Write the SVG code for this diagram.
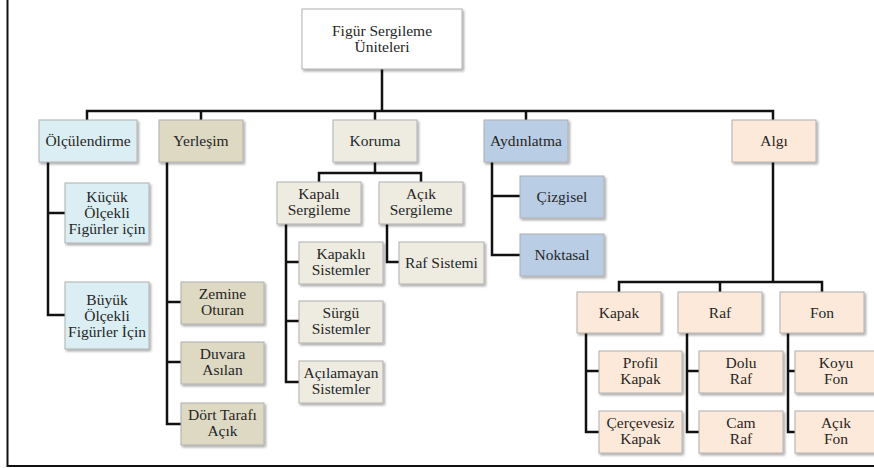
<svg xmlns="http://www.w3.org/2000/svg" width="874" height="468" viewBox="0 0 874 468">
<defs>
<filter id="sh" x="-10%" y="-10%" width="125%" height="130%">
<feDropShadow dx="1.5" dy="1.8" stdDeviation="1" flood-color="#000" flood-opacity="0.35"/>
</filter>
</defs>
<style>
.b{stroke:#B0B0B0;stroke-width:1;filter:url(#sh)}
.w{fill:#FFFFFF}
.lb{fill:#DBEEF3}
.tn{fill:#DDD9C3}
.bg{fill:#EEECE1}
.bl{fill:#B9CDE5}
.pc{fill:#FDE9D9}
.c{fill:none;stroke:#111;stroke-width:2.5}
.f{fill:none;stroke:#111;stroke-width:2}
</style>
<rect width="874" height="468" fill="#FFFFFF"/>
<g id="frame"><path class="f" d="M7.5,0 V466 H874"/></g>
<g id="connectors">
<path class="c" d="M382,69 V111 M87,120 V111 H773 V120 M201,111 V120 M375,111 V120 M526,111 V120"/>
<path class="c" d="M48,162 V315 H65 M48,213 H65"/>
<path class="c" d="M167,162 V424 H181 M167,302 H181 M167,362 H181"/>
<path class="c" d="M375,162 V173 M319,182 V173 H421 V182"/>
<path class="c" d="M286,224 V382 H299 M286,262 H299 M286,321 H299"/>
<path class="c" d="M387,224 V262 H399"/>
<path class="c" d="M492,162 V255 H520 M492,196 H520"/>
<path class="c" d="M773,162 V282 M619,292 V282 H822 V292 M720,282 V292"/>
<path class="c" d="M586,333 V432 H599 M586,371 H599"/>
<path class="c" d="M687,333 V432 H699 M687,371 H699"/>
<path class="c" d="M788,333 V432 H795 M788,371 H795"/>
</g>
<g font-family="'Liberation Serif', 'DejaVu Serif', serif" font-size="15.5" fill="#262626" text-anchor="middle">
<g id="n_root"><rect class="b w" x="302" y="9" width="160" height="60"/><text x="382" y="36">Figür Sergileme</text><text x="382" y="51.5">Üniteleri</text></g>
<g id="n_olc"><rect class="b lb" x="39" y="120" width="98" height="42"/><text x="88" y="146">Ölçülendirme</text></g>
<g id="n_yer"><rect class="b tn" x="159" y="120" width="84" height="42"/><text x="201" y="146">Yerleşim</text></g>
<g id="n_kor"><rect class="b bg" x="333" y="120" width="84" height="42"/><text x="375" y="146">Koruma</text></g>
<g id="n_ayd"><rect class="b bl" x="484" y="120" width="84" height="42"/><text x="526" y="146">Aydınlatma</text></g>
<g id="n_alg"><rect class="b pc" x="732" y="120" width="84" height="42"/><text x="774" y="146">Algı</text></g>
<g id="n_kucuk"><rect class="b lb" x="65" y="183" width="84" height="60"/><text x="107" y="202">Küçük</text><text x="107" y="218">Ölçekli</text><text x="107" y="234">Figürler için</text></g>
<g id="n_buyuk"><rect class="b lb" x="65" y="282" width="84" height="67"/><text x="107" y="304.5">Büyük</text><text x="107" y="320.5">Ölçekli</text><text x="107" y="336.5">Figürler İçin</text></g>
<g id="n_zemine"><rect class="b tn" x="181" y="282" width="83" height="42"/><text x="222.5" y="299">Zemine</text><text x="222.5" y="315">Oturan</text></g>
<g id="n_duvara"><rect class="b tn" x="181" y="342" width="83" height="42"/><text x="222.5" y="359">Duvara</text><text x="222.5" y="375">Asılan</text></g>
<g id="n_dort"><rect class="b tn" x="181" y="403" width="83" height="42"/><text x="222.5" y="420">Dört Tarafı</text><text x="222.5" y="436">Açık</text></g>
<g id="n_kapali"><rect class="b bg" x="277" y="182" width="84" height="42"/><text x="319" y="199">Kapalı</text><text x="319" y="215">Sergileme</text></g>
<g id="n_acik"><rect class="b bg" x="379" y="182" width="84" height="42"/><text x="421" y="199">Açık</text><text x="421" y="215">Sergileme</text></g>
<g id="n_kapakli"><rect class="b bg" x="299" y="242" width="84" height="42"/><text x="341" y="259">Kapaklı</text><text x="341" y="275">Sistemler</text></g>
<g id="n_surgu"><rect class="b bg" x="299" y="301" width="84" height="42"/><text x="341" y="318">Sürgü</text><text x="341" y="334">Sistemler</text></g>
<g id="n_acilamayan"><rect class="b bg" x="299" y="361" width="84" height="42"/><text x="341" y="378">Açılamayan</text><text x="341" y="394">Sistemler</text></g>
<g id="n_rafsis"><rect class="b bg" x="399" y="242" width="85" height="42"/><text x="441.5" y="268">Raf Sistemi</text></g>
<g id="n_cizgisel"><rect class="b bl" x="520" y="176" width="84" height="42"/><text x="562" y="202">Çizgisel</text></g>
<g id="n_noktasal"><rect class="b bl" x="520" y="234" width="84" height="42"/><text x="562" y="260">Noktasal</text></g>
<g id="n_kapak"><rect class="b pc" x="577" y="292" width="84" height="41"/><text x="619" y="317.5">Kapak</text></g>
<g id="n_raf"><rect class="b pc" x="678" y="292" width="84" height="41"/><text x="720" y="317.5">Raf</text></g>
<g id="n_fon"><rect class="b pc" x="780" y="292" width="84" height="41"/><text x="822" y="317.5">Fon</text></g>
<g id="n_profil"><rect class="b pc" x="599" y="351" width="83" height="42"/><text x="640.5" y="368">Profil</text><text x="640.5" y="384">Kapak</text></g>
<g id="n_cercevesiz"><rect class="b pc" x="599" y="411" width="83" height="42"/><text x="640.5" y="428">Çerçevesiz</text><text x="640.5" y="444">Kapak</text></g>
<g id="n_dolu"><rect class="b pc" x="699" y="351" width="84" height="42"/><text x="741" y="368">Dolu</text><text x="741" y="384">Raf</text></g>
<g id="n_cam"><rect class="b pc" x="699" y="411" width="84" height="42"/><text x="741" y="428">Cam</text><text x="741" y="444">Raf</text></g>
<g id="n_koyu"><rect class="b pc" x="795" y="351" width="84" height="42"/><text x="836" y="368">Koyu</text><text x="836" y="384">Fon</text></g>
<g id="n_acikfon"><rect class="b pc" x="795" y="411" width="84" height="42"/><text x="836" y="428">Açık</text><text x="836" y="444">Fon</text></g>
</g>
</svg>
